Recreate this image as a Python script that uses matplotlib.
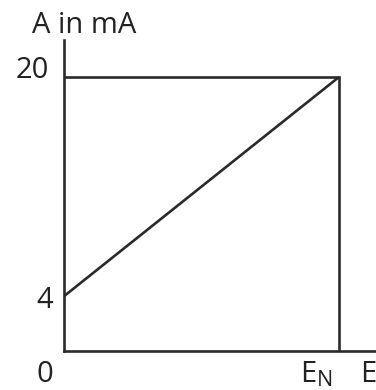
import matplotlib
matplotlib.use("Agg")
import matplotlib.pyplot as plt

# Data
x_line = [0.0, 1.0]          # 0 .. E_N
y_line = [4.0, 20.0]         # 4 mA .. 20 mA
box_x = [0.0, 1.0, 1.0]
box_y = [20.0, 20.0, 0.0]
ytick_vals = [4, 20]
ytick_labels = ["4", "20"]

W, H = 376, 390
fig = plt.figure(figsize=(W / 100, H / 100), dpi=100)
ax = fig.add_axes([64 / W, 39 / H, 312 / W, 311 / H])
ax.set_xlim(0, 312 / 275)
ax.set_ylim(0, 311 / 13.7)

col = "#2a2a2a"
lw = 1.9
ax.plot(x_line, y_line, color=col, lw=lw, solid_capstyle="butt")
ax.plot(box_x, box_y, color=col, lw=lw, solid_joinstyle="miter")

for s in ["top", "right"]:
    ax.spines[s].set_visible(False)
for s in ["left", "bottom"]:
    ax.spines[s].set_color(col)
    ax.spines[s].set_linewidth(lw)
ax.set_xticks([])
ax.set_yticks([])

font = "Open Sans"
fs = 21
tc = "#222222"
px = 1 / 275.0
py = 1 / 13.7

def T(xp, yp, s, **kw):
    ax.text((xp - 64) * px, (351 - yp) * py, s, family=font, color=tc,
            clip_on=False, **kw)

T(32, 33, "A in mA", fontsize=fs, ha="left", va="baseline")
T(49, 78, ytick_labels[1], fontsize=fs, ha="right", va="baseline")
T(53, 308, ytick_labels[0], fontsize=fs, ha="right", va="baseline")
T(53, 382, "0", fontsize=fs, ha="right", va="baseline")
T(300, 382, "E", fontsize=fs, ha="left", va="baseline")
T(317, 386, "N", fontsize=15.5, ha="left", va="baseline")
T(360, 382, "E", fontsize=fs, ha="left", va="baseline")

fig.savefig("out.png", dpi=100)
